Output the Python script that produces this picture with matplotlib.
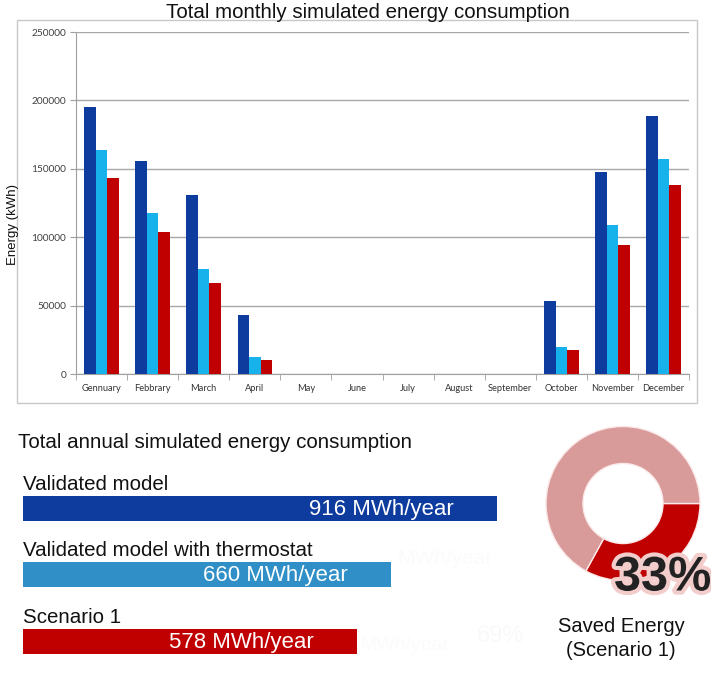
import numpy as np
import matplotlib
matplotlib.use('Agg')
import matplotlib.pyplot as plt
import matplotlib.patheffects as pe
from matplotlib.patches import Rectangle

plt.rcParams['font.family'] = ['Liberation Sans', 'DejaVu Sans']

# monthly data (kWh)
months = ['Gennuary', 'Febbrary', 'March', 'April', 'May', 'June', 'July',
          'August', 'September', 'October', 'November', 'December']
validated = [195000, 155500, 130500, 43000, 0, 0, 0, 0, 0, 53000, 148000, 188500]
thermostat = [163500, 118000, 77000, 12500, 0, 0, 0, 0, 0, 20000, 109000, 157500]
scenario1 = [143500, 104000, 66500, 10500, 0, 0, 0, 0, 0, 17500, 94500, 138000]
y_ticks = [0, 50000, 100000, 150000, 200000, 250000]

# annual totals (MWh/year)
annual_names = ['Validated model', 'Validated model with thermostat', 'Scenario 1']
annual_values = [916, 660, 578]
saved_pct = 33

W, H = 711, 677
fig = plt.figure(figsize=(W / 100, H / 100), dpi=100)


def rect(x0, y0, x1, y1):
    # pixel box (top-left origin) -> figure fraction
    return [x0 / W, 1 - y1 / H, (x1 - x0) / W, (y1 - y0) / H]


# ---- top chart ----
fig.patches.append(Rectangle((17 / W, 1 - 403 / H), 680 / W, 383 / H,
                             transform=fig.transFigure, fill=False,
                             ec='#c8c8c8', lw=1))
fig.text(368 / W, 1 - 12 / H, 'Total monthly simulated energy consumption',
         ha='center', va='center', fontsize=14.8, color='#111111')

ax = fig.add_axes(rect(76, 32, 689, 374))
idx = np.arange(len(months))
bw = 0.225
c_dark, c_light, c_red = '#0d3b9e', '#17b1ec', '#c00000'
ax.bar(idx - bw, validated, bw, color=c_dark, zorder=3)
ax.bar(idx, thermostat, bw, color=c_light, zorder=3)
ax.bar(idx + bw, scenario1, bw, color=c_red, zorder=3)
ax.set_xlim(-0.5, len(months) - 0.5)
ax.set_ylim(0, 250000)
ax.set_yticks(y_ticks)
ax.set_yticklabels([str(v) for v in y_ticks], fontsize=7.3, color='#404040',
                   family='Lato')
ax.set_xticks(idx)
ax.set_xticklabels(months, fontsize=6.7, color='#333333', family='Lato')
ax.set_xticks(np.arange(-0.5, len(months)), minor=True)
ax.tick_params(axis='x', which='major', length=0, pad=7)
ax.tick_params(axis='x', which='minor', length=4, color='#a0a0a0', direction='out')
ax.tick_params(axis='y', length=4, color='#a0a0a0', pad=3)
ax.grid(axis='y', color='#a8a8a8', lw=1, zorder=0)
for s in ['top', 'right']:
    ax.spines[s].set_visible(False)
for s in ['left', 'bottom']:
    ax.spines[s].set_color('#a0a0a0')
fig.text(13 / W, 1 - 224 / H, 'Energy (kWh)', rotation=90, ha='center',
         va='center', fontsize=9.5, color='#111111')

# ---- annual bars ----
fig.text(18 / W, 1 - 443 / H, 'Total annual simulated energy consumption',
         ha='left', va='center', fontsize=14.8, color='#111111')

bx = fig.add_axes(rect(23, 475.6, 497, 674.2))
bar_origin = -225
annual_colors = ['#0d3b9e', '#2f8fc6', '#c00000']
bh = 0.38
rows = np.arange(len(annual_values))
bx.barh(rows, [v - bar_origin for v in annual_values], height=bh,
        left=bar_origin, color=annual_colors)
bx.set_xlim(bar_origin, max(annual_values))
bx.set_ylim(len(rows) - 0.5, -0.5)
bx.axis('off')
for i, (name, v) in enumerate(zip(annual_names, annual_values)):
    bx.text(bar_origin, i - bh / 2 - 0.03, name, ha='left', va='bottom',
            fontsize=14.8, color='#111111', clip_on=False)
    bx.annotate(f'{v} MWh/year', (v, i), xytext=(-43, -1),
                textcoords='offset pixels', ha='right', va='center',
                fontsize=16, color='white')

# faint ghost texts from the original slide
fig.text(445 / W, 1 - 558 / H, 'MWh/year', ha='center', va='center',
         fontsize=15, color='#fbfbfb')
fig.text(405 / W, 1 - 645 / H, 'MWh/year', ha='center', va='center',
         fontsize=14, color='#fbfbfb')
fig.text(500 / W, 1 - 636 / H, '69%', ha='center', va='center',
         fontsize=17, color='#f9f9f9')

# ---- donut ----
dx = fig.add_axes(rect(546, 426.5, 700, 580.5))
dx.pie([saved_pct, 100 - saved_pct], colors=['#c00000', '#d99a9a'],
       startangle=0, counterclock=False,
       wedgeprops=dict(width=0.48, edgecolor='#fbe8e8', linewidth=1))
dx.set_xlim(-1, 1)
dx.set_ylim(-1, 1)
dx.set_aspect('equal')
fig.text(614 / W, 1 - 578 / H, f'{saved_pct}%', ha='left', va='center',
         fontsize=35, fontweight='bold', color='#222222',
         path_effects=[pe.withStroke(linewidth=6, foreground='#f3cccc')])
fig.text(621 / W, 1 - 627 / H, 'Saved Energy', ha='center', va='center',
         fontsize=14.5, color='#111111')
fig.text(621 / W, 1 - 651 / H, '(Scenario 1)', ha='center', va='center',
         fontsize=14.5, color='#111111')

fig.savefig('out.png', dpi=100)
